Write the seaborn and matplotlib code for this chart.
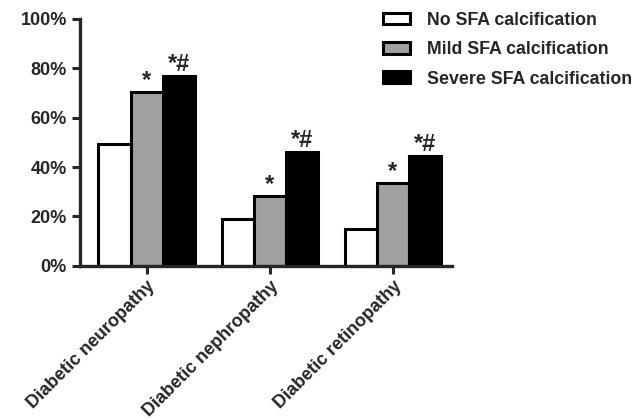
import matplotlib
matplotlib.use('Agg')
import matplotlib.pyplot as plt
import matplotlib.transforms as mtrans
import pandas as pd
import seaborn as sns

# 데이터
categories = ['Diabetic neuropathy', 'Diabetic nephropathy', 'Diabetic retinopathy']
groups = ['No SFA calcification', 'Mild SFA calcification', 'Severe SFA calcification']
no_sfa = [49.5, 18.8, 15.0]
mild_sfa = [70.2, 28.3, 33.5]
severe_sfa = [76.8, 46.0, 44.3]
marks = ['', '*', '*#']   # 그룹별 유의성 표시

df = pd.DataFrame({
    'category': categories * 3,
    'group': [g for g in groups for _ in categories],
    'value': no_sfa + mild_sfa + severe_sfa,
})

sns.set_style('ticks')
plt.rcParams['font.family'] = ['Liberation Sans', 'DejaVu Sans']
plt.rcParams['font.weight'] = 'bold'

fig = plt.figure(figsize=(6.35, 4.2), dpi=100)
ax = fig.add_axes([0.126, 0.367, 0.586, 0.588])

sns.barplot(data=df, x='category', y='value', hue='group', hue_order=groups,
            palette=['white', '#a0a0a0', 'black'], edgecolor='black',
            linewidth=2.2, width=0.78, ax=ax)

# 별표 표시
for cont, mark in zip(ax.containers, marks):
    if mark:
        ax.bar_label(cont, labels=[mark] * len(cont), padding=0,
                     fontsize=17, fontweight='bold')

ax.set_ylim(0, 100)
ax.set_xlim(-0.54, 2.48)
ax.set_yticks([0, 20, 40, 60, 80, 100])
ax.set_yticklabels([f'{v}%' for v in range(0, 101, 20)], fontsize=13, fontweight='bold')
ax.set_xticks(range(3))
ax.set_xticklabels(categories, rotation=45, ha='right', rotation_mode='anchor',
                   fontsize=13, fontweight='bold')
# 라벨 살짝 왼쪽으로
offset = mtrans.ScaledTranslation(-4 / 100, 0, fig.dpi_scale_trans)
for lab in ax.get_xticklabels():
    lab.set_transform(lab.get_transform() + offset)
ax.set_xlabel('')
ax.set_ylabel('')
ax.tick_params(width=2.2, length=6)
ax.tick_params(axis='x', pad=2.5)
for s in ['left', 'bottom']:
    ax.spines[s].set_linewidth(2.4)
sns.despine(ax=ax)

handles, labels = ax.get_legend_handles_labels()
ax.get_legend().remove()
fig.legend(handles, labels, loc='upper left', bbox_to_anchor=(0.603, 0.972),
           frameon=False, prop={'size': 12.8, 'weight': 'bold'},
           handlelength=1.5, handleheight=0.65, labelspacing=0.7,
           handletextpad=1.0, borderpad=0, borderaxespad=0)

fig.savefig('out.png', dpi=100)
